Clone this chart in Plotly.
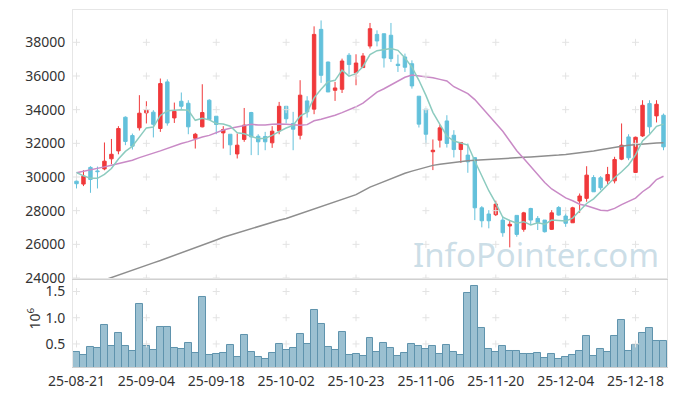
import plotly.graph_objects as go

dates = ["25-08-21","25-08-22","25-08-25","25-08-26","25-08-27","25-08-28","25-08-29",
         "25-09-01","25-09-02","25-09-03","25-09-04","25-09-05","25-09-08","25-09-09",
         "25-09-10","25-09-11","25-09-12","25-09-15","25-09-16","25-09-17","25-09-18",
         "25-09-19","25-09-22","25-09-23","25-09-24","25-09-25","25-09-26","25-09-29",
         "25-09-30","25-10-01","25-10-02","25-10-10","25-10-13","25-10-14","25-10-15",
         "25-10-16","25-10-17","25-10-20","25-10-21","25-10-22","25-10-23","25-10-24",
         "25-10-27","25-10-28","25-10-29","25-10-30","25-10-31","25-11-03","25-11-04",
         "25-11-05","25-11-06","25-11-07","25-11-10","25-11-11","25-11-12","25-11-13",
         "25-11-14","25-11-17","25-11-18","25-11-19","25-11-20","25-11-21","25-11-24",
         "25-11-25","25-11-26","25-11-27","25-11-28","25-12-01","25-12-02","25-12-03",
         "25-12-04","25-12-05","25-12-08","25-12-09","25-12-10","25-12-11","25-12-12",
         "25-12-15","25-12-16","25-12-17","25-12-18","25-12-19","25-12-22","25-12-23",
         "25-12-24"]

open_ = [29750,29580,30570,30360,30480,31080,31550,33550,32460,32920,33810,33850,32880,35650,
         33510,34500,34380,32300,32980,34560,33610,32620,32540,31370,32230,33830,32420,32400,
         32030,32740,34200,33180,32480,34520,34030,38770,36830,35150,35210,37230,36180,36500,
         37780,38470,38510,38420,36700,37130,36730,34800,34030,31500,32190,33330,32480,31630,
         31300,31150,28170,27800,27760,27440,27090,27720,26890,28130,27540,27440,26890,28190,
         27680,27280,28570,28730,29970,29950,29770,29770,31060,32380,30270,32440,34360,33630,
         33670]
high = [29970,30400,30640,30620,32050,32260,33020,33600,32580,34860,34500,33970,35850,35800,
        34420,35020,34560,32620,35510,34620,33610,33020,32540,32580,34100,33870,32540,32680,
        33020,34460,34200,33870,35750,34800,38950,39300,36850,35650,37030,37360,37290,37360,
        39150,38710,38510,39150,37270,37330,36930,34800,34030,32230,33120,33670,32780,32050,
        31990,31150,28270,28030,28590,27680,27380,27720,27930,28170,27680,27440,28030,28270,
        27870,28230,29020,30640,30110,30050,30600,31200,33180,32540,32400,34560,34560,34560,
        33770]
low = [29320,29460,29060,29320,30400,30760,31350,31890,31630,32760,33180,32350,32680,33050,
       33210,34000,32540,31690,32950,33400,32540,31690,31300,31100,32090,31300,31300,31590,
       31730,32540,33180,31590,32230,33530,33730,35590,35050,34520,34990,36080,35450,36500,
       37630,37760,36500,36830,36240,36240,35250,32940,31950,30410,31750,31750,31160,30840,
       30250,27440,27010,26950,27680,26450,25820,26450,26750,27200,26850,26700,26850,27700,
       27040,27280,27870,28530,29120,29220,29580,29620,31000,31000,30250,32380,32580,33240,
       31590]
close = [29600,30050,29850,30320,30940,31350,32880,32110,31830,33790,33970,33130,35550,33210,
         33900,34200,32980,32540,33830,33410,33120,32820,31910,31890,33080,32380,32090,32090,
         32720,34200,33460,32840,34860,33870,38470,36040,35050,35290,36890,36680,36770,37190,
         38810,38080,37070,37030,36620,36520,35410,33140,32540,31590,32920,31990,31630,32050,
         30900,28170,27400,27400,28390,26690,27190,26590,27870,27440,27300,26750,27870,27740,
         27250,28170,28870,30110,29120,29360,30150,31040,31890,31140,32360,34260,32980,34320,
         31790]

ma5 = [30270,30070,29920,29920,30152,30502,31068,31520,31822,32392,32916,32966,33654,33930,
       33952,33998,33968,33366,33490,33392,33176,33144,33018,32630,32564,32416,32270,32306,
       32472,32696,32912,33062,33616,33846,34700,35216,35658,35744,36348,35990,36136,36564,
       37268,37506,37584,37636,37522,37064,36530,35744,34846,33840,33120,32436,32134,32036,
       31898,30948,30030,29184,28452,27610,27414,27252,27346,27156,27278,27190,27446,27420,
       27382,27556,27980,28428,28704,29126,29522,29956,30312,30716,31316,32138,32526,33012,
       33142]
ma20 = [30250,30330,30410,30500,30600,30700,30800,30900,31000,31150,31300,31420,31550,31700,
        31820,31990,32100,32250,32380,32472,32648,32787,32890,32968,33075,33127,33087,33086,
        33131,33151,33126,33111,33077,33110,33338,33430,33534,33671,33824,33988,34170,34389,
        34734,35043,35243,35475,35702,35923,36058,36005,35959,35896,35799,35705,35363,35164,
        34956,34600,34126,33662,33243,32718,32137,31562,31102,30623,30157,29668,29291,29021,
        28757,28586,28383,28289,28164,28029,27992,28135,28360,28547,28745,29124,29413,29850,
        30046]
ma120 = [23300,23450,23600,23750,23880,24020,24170,24320,24470,24610,24750,24900,25040,25190,
         25340,25480,25630,25770,25920,26080,26260,26420,26550,26680,26810,26920,27040,27170,
         27300,27430,27540,27680,27800,27930,28080,28230,28380,28520,28660,28810,28950,29180,
         29400,29560,29720,29900,30080,30220,30350,30470,30580,30690,30760,30820,30870,30920,
         30960,30990,31020,31060,31090,31110,31130,31150,31170,31190,31210,31240,31270,31300,
         31340,31380,31420,31480,31540,31620,31700,31770,31830,31880,31920,31960,31990,32020,
         32030]

volume = [341000,284000,436000,417000,856000,456000,704000,456000,360000,1257000,456000,379000,
          818000,831000,417000,398000,513000,322000,1391000,284000,303000,322000,475000,246000,
          665000,341000,246000,207000,322000,494000,379000,417000,685000,494000,1143000,875000,
          436000,379000,723000,284000,303000,265000,608000,341000,513000,417000,265000,322000,
          494000,456000,398000,456000,303000,475000,341000,284000,1467000,1607000,799000,398000,
          341000,456000,360000,360000,303000,303000,322000,227000,303000,207000,246000,284000,
          360000,646000,265000,398000,341000,646000,952000,360000,475000,704000,799000,551000,
          551000]

price_ticks = [24000, 26000, 28000, 30000, 32000, 34000, 36000, 38000]
price_tick_text = [str(p) for p in price_ticks]
vol_ticks = [0.5, 1.0, 1.5]
vol_tick_text = ["0.5", "1.0", "1.5"]
x_tick_dates = dates[::10]

FONT = "Noto Sans"
UP = "#f0393b"
DOWN = "#63c1db"
GRID = "#e3e3e3"
BORDER = "#e6e6e6"

fig = go.Figure()

fig.add_trace(go.Candlestick(
    x=dates, open=open_, high=high, low=low, close=close,
    increasing=dict(line=dict(color=UP, width=1), fillcolor=UP),
    decreasing=dict(line=dict(color=DOWN, width=1), fillcolor=DOWN),
    whiskerwidth=0, showlegend=False, xaxis="x", yaxis="y"))

fig.add_trace(go.Bar(
    x=dates, y=[v / 1e6 for v in volume],
    marker=dict(color="rgba(130,176,197,0.8)", line=dict(color="#5f93ad", width=1)),
    showlegend=False, xaxis="x2", yaxis="y2"))

fig.add_trace(go.Scatter(x=dates, y=ma120, mode="lines",
                         line=dict(color="#8e8e8e", width=1.5), showlegend=False,
                         xaxis="x", yaxis="y"))
fig.add_trace(go.Scatter(x=dates, y=ma20, mode="lines",
                         line=dict(color="#c98ac6", width=1.5), showlegend=False,
                         xaxis="x", yaxis="y"))
fig.add_trace(go.Scatter(x=dates, y=ma5, mode="lines",
                         line=dict(color="#8ccbbf", width=1.5), showlegend=False,
                         xaxis="x", yaxis="y"))

# grid "+" marks at tick intersections
fig.add_trace(go.Scatter(
    x=[d for d in x_tick_dates for _ in price_ticks],
    y=[p for _ in x_tick_dates for p in price_ticks],
    mode="markers", marker=dict(symbol="cross-thin", size=5, line=dict(color=GRID, width=1)),
    hoverinfo="skip", showlegend=False, xaxis="x", yaxis="y"))
fig.add_trace(go.Scatter(
    x=[d for d in x_tick_dates for _ in vol_ticks],
    y=[v for _ in x_tick_dates for v in vol_ticks],
    mode="markers", marker=dict(symbol="cross-thin", size=5, line=dict(color=GRID, width=1)),
    hoverinfo="skip", showlegend=False, xaxis="x2", yaxis="y2"))

tickfont = dict(family=FONT, size=14, color="#333333")

fig.update_layout(
    width=677, height=396,
    margin=dict(l=73, r=10, t=10, b=29),
    paper_bgcolor="white", plot_bgcolor="white",
    bargap=0,
    font=dict(family=FONT, color="#333333"),
    xaxis=dict(type="category", categoryorder="array", categoryarray=dates,
               domain=[0, 1], anchor="y", range=[-0.5, 84.5], automargin=False,
               showticklabels=False, showgrid=False, zeroline=False,
               showline=True, linecolor=BORDER, mirror=True,
               rangeslider=dict(visible=False), ticks=""),
    yaxis=dict(domain=[0.2493, 1], range=[24000, 39920], tickvals=price_ticks,
               ticktext=price_tick_text, automargin=False,
               showgrid=False, zeroline=False, showline=True, linecolor=BORDER, mirror=True,
               tickfont=tickfont, ticks="", ticklabelstandoff=4),
    xaxis2=dict(type="category", categoryorder="array", categoryarray=dates,
                domain=[0, 1], anchor="y2", range=[-0.5, 84.5], automargin=False,
                matches="x", tickvals=x_tick_dates, ticktext=x_tick_dates,
                showgrid=False, zeroline=False, showline=True, linecolor="#d0d0d0", mirror=True,
                tickfont=tickfont, ticks="", tickangle=0, ticklabelstandoff=1),
    yaxis2=dict(domain=[0, 0.2437], range=[0.06, 1.72], tickvals=vol_ticks,
                ticktext=vol_tick_text, showgrid=False, zeroline=False, automargin=False,
                showline=True, linecolor=BORDER, mirror=True, tickfont=tickfont, ticks="",
                ticklabelstandoff=4),
    annotations=[
        dict(text="10<sup>6</sup>", xref="paper", yref="paper", x=-0.065, y=0.137,
             textangle=-90, showarrow=False, font=dict(family=FONT, size=14, color="#333333"),
             xanchor="center", yanchor="middle"),
        dict(text="InfoPointer.com", xref="paper", yref="paper", x=0.99, y=0.315,
             showarrow=False, xanchor="right", yanchor="middle",
             font=dict(family=FONT, size=33, color="rgba(170,200,215,0.6)")),
    ],
)

fig.write_html("out.html", config={"displayModeBar": False},
               post_script="document.body.style.margin='0';document.body.style.padding='0';")
